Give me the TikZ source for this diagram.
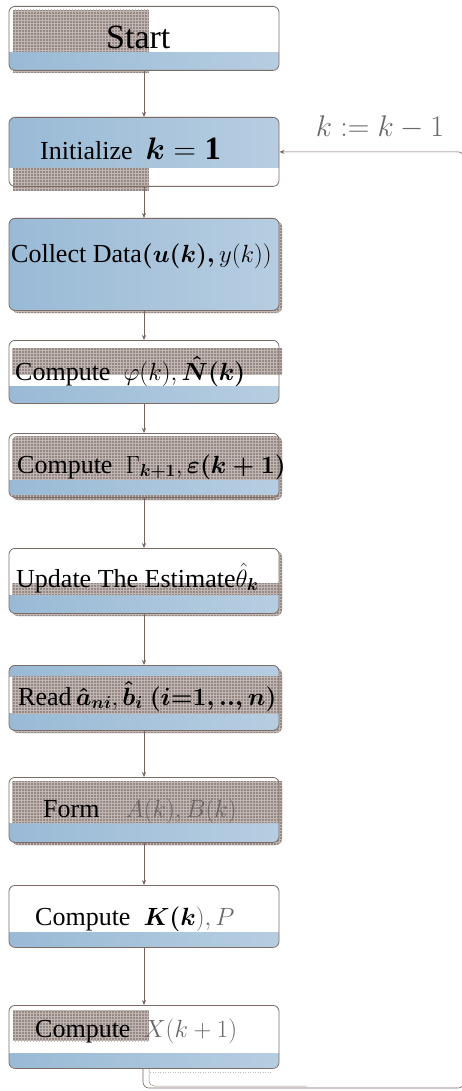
\documentclass[tikz,border=0pt]{standalone}
\usepackage{amsmath}
\usepackage{graphicx}
\usepackage{fontspec}
\setmainfont{Liberation Serif}
\usetikzlibrary{arrows.meta,patterns}
\definecolor{boxline}{RGB}{125,108,102}
\definecolor{arrowc}{RGB}{120,100,95}
\definecolor{texbase}{RGB}{150,136,132}
\definecolor{texlight}{RGB}{192,182,178}
\definecolor{blueL}{RGB}{152,185,213}
\definecolor{blueR}{RGB}{185,207,226}
\definecolor{faint}{RGB}{105,105,105}
\newcommand\boxclip[2]{\clip[rounded corners=6pt] (9,#1) rectangle (279,#2);}
\newcommand\bandfill[2]{\shade[left color=blueL,right color=blueR] (0,#1) rectangle (300,#2);}
\begin{document}
\begin{tikzpicture}[x=1pt,y=-1pt,
  box/.style={draw=boxline, line width=0.8pt, rounded corners=6pt,
    minimum width=270pt, inner sep=0pt, anchor=north},
  tex/.style={fill=texbase, postaction={pattern=grid, pattern color=texlight}},
  conn/.style={draw=arrowc, line width=0.6pt, -{Stealth[length=5pt,width=4pt]}},
  txt/.style={anchor=base west, inner sep=0pt, font=\fontsize{26}{30}\selectfont},
]
\useasboundingbox (0,0) rectangle (462,1091);
\fill[white] (0,0) rectangle (462,1091);

% ---- box 1: Start
\fill[tex] (13,10) rectangle (149,73);
\begin{scope}\boxclip{6}{70}\bandfill{53}{70}\end{scope}
\node[box, minimum height=64pt] (b1) at (144,6) {};
\node[anchor=base west, inner sep=0pt, font=\fontsize{34}{38}\selectfont] (t1) at (106,49) {Start};

% ---- box 2: Initialize
\begin{scope}\boxclip{117}{186}\bandfill{117}{168}\end{scope}
\fill[tex] (13,168) rectangle (149,191);
\node[box, minimum height=69pt] (b2) at (144,117) {};
\node[txt] (t2) at (40,160) {Initialize\enspace \scalebox{1.25}{$\boldsymbol{k}=\mathbf{1}$}};

% ---- box 3: Collect Data
\fill[tex, rounded corners=6pt] (12,221) rectangle (282,313);
\begin{scope}\boxclip{218}{310}\bandfill{210}{320}\end{scope}
\node[box, minimum height=92pt] (b3) at (144,218) {};
\node[txt] (t3) at (11,262) {Collect Data$\boldsymbol{(u(k),}\,y(k))$};

% ---- box 4: Compute phi, N
\begin{scope}\boxclip{340}{403}\fill[white] (0,330) rectangle (300,410);\bandfill{386}{403}\end{scope}
\fill[tex] (12,348) rectangle (282,374);
\node[box, minimum height=63pt] (b4) at (144,340) {};
\node[txt] (t4) at (15,380) {Compute\enspace $\varphi(k),\boldsymbol{\hat{N}(k)}$};

% ---- box 5: Compute Gamma, epsilon
\begin{scope}\boxclip{433}{497}\fill[white] (0,425) rectangle (300,505);\end{scope}
\fill[tex, rounded corners=6pt] (12,436) rectangle (282,500);
\begin{scope}\boxclip{433}{497}\bandfill{480}{494}\end{scope}
\node[box, minimum height=64pt] (b5) at (144,433) {};
\node[txt] (t5) at (17,473) {Compute\enspace$\Gamma_{\boldsymbol{k+1}},\boldsymbol{\varepsilon(k+1)}$};

% ---- box 6: Update
\fill[tex, rounded corners=6pt] (12,551) rectangle (282,616);
\begin{scope}\boxclip{548}{613}\fill[white] (0,540) rectangle (300,620);\bandfill{595}{613}\end{scope}
\fill[tex] (12,583) rectangle (282,595);
\node[box, minimum height=65pt] (b6) at (144,548) {};
\node[txt] (t6) at (16,587) {Update The Estimate$\hat{\theta}_{\boldsymbol{k}}$};

% ---- box 7: Read
\fill[tex, rounded corners=6pt] (12,668) rectangle (282,733);
\begin{scope}\boxclip{665}{730}\bandfill{660}{676}\bandfill{713}{730}\end{scope}
\fill[tex] (12,676) rectangle (282,713);
\node[box, minimum height=65pt] (b7) at (144,665) {};
\node[txt] (t7) at (18,705) {Read\,$\boldsymbol{\hat{a}_{ni}},\boldsymbol{\hat{b}_{i}}\;\boldsymbol{(i{=}1,..,n)}$};

% ---- box 8: Form
\fill[tex, rounded corners=6pt] (12,780) rectangle (282,845);
\begin{scope}\boxclip{777}{842}\fill[white] (0,770) rectangle (300,850);\bandfill{823}{842}\end{scope}
\fill[tex] (12,781) rectangle (282,823);
\node[box, minimum height=65pt] (b8) at (144,777) {};
\node[txt] (t8) at (43,817) {Form\quad\textcolor{faint}{$A(k),B(k)$}};

% ---- box 9: Compute K
\begin{scope}\boxclip{885}{947}\bandfill{932}{947}\end{scope}
\node[box, minimum height=62pt] (b9) at (144,885) {};
\node[txt] (t9) at (35,925) {Compute\enspace$\boldsymbol{K(k}$\textcolor{faint}{$),P$}};

% ---- box 10: Compute X
\fill[tex] (13,1010) rectangle (149,1041);
\begin{scope}\boxclip{1005}{1068}\bandfill{1053}{1068}\end{scope}
\node[box, minimum height=63pt] (b10) at (144,1005) {};
\node[txt] (t10) at (35,1037) {Compute\enspace\textcolor{faint}{$X(k+1)$}};

% ---- connectors
\draw[conn] (b1) -- (b2);
\draw[conn] (b2) -- (b3);
\draw[conn] (b3) -- (b4);
\draw[conn] (b4) -- (b5);
\draw[conn] (b5) -- (b6);
\draw[conn] (b6) -- (b7);
\draw[conn] (b7) -- (b8);
\draw[conn] (b8) -- (b9);
\draw[conn] (b9) -- (b10);

% ---- feedback loop
\coordinate (fbR) at (464,1088);
\coordinate (fbI) at (307,1086);
\coordinate (dA) at (150,1072);
\coordinate (dB) at (272,1072);
\draw[conn, rounded corners=6pt] ([xshift=-1pt]b10.south) |- (fbR) |- (b2.east);
\draw[draw=arrowc!70, line width=0.5pt, rounded corners=5pt] ([xshift=5pt]b10.south) |- (fbI);
\draw[draw=arrowc!45, dotted, line width=0.5pt] (dA) -- (dB);
\node[text=faint, inner sep=0pt, font=\fontsize{28}{30}\selectfont] (lbl) at (380,127) {\scalebox{1.2}{$k := k-1$}};
\end{tikzpicture}
\end{document}
